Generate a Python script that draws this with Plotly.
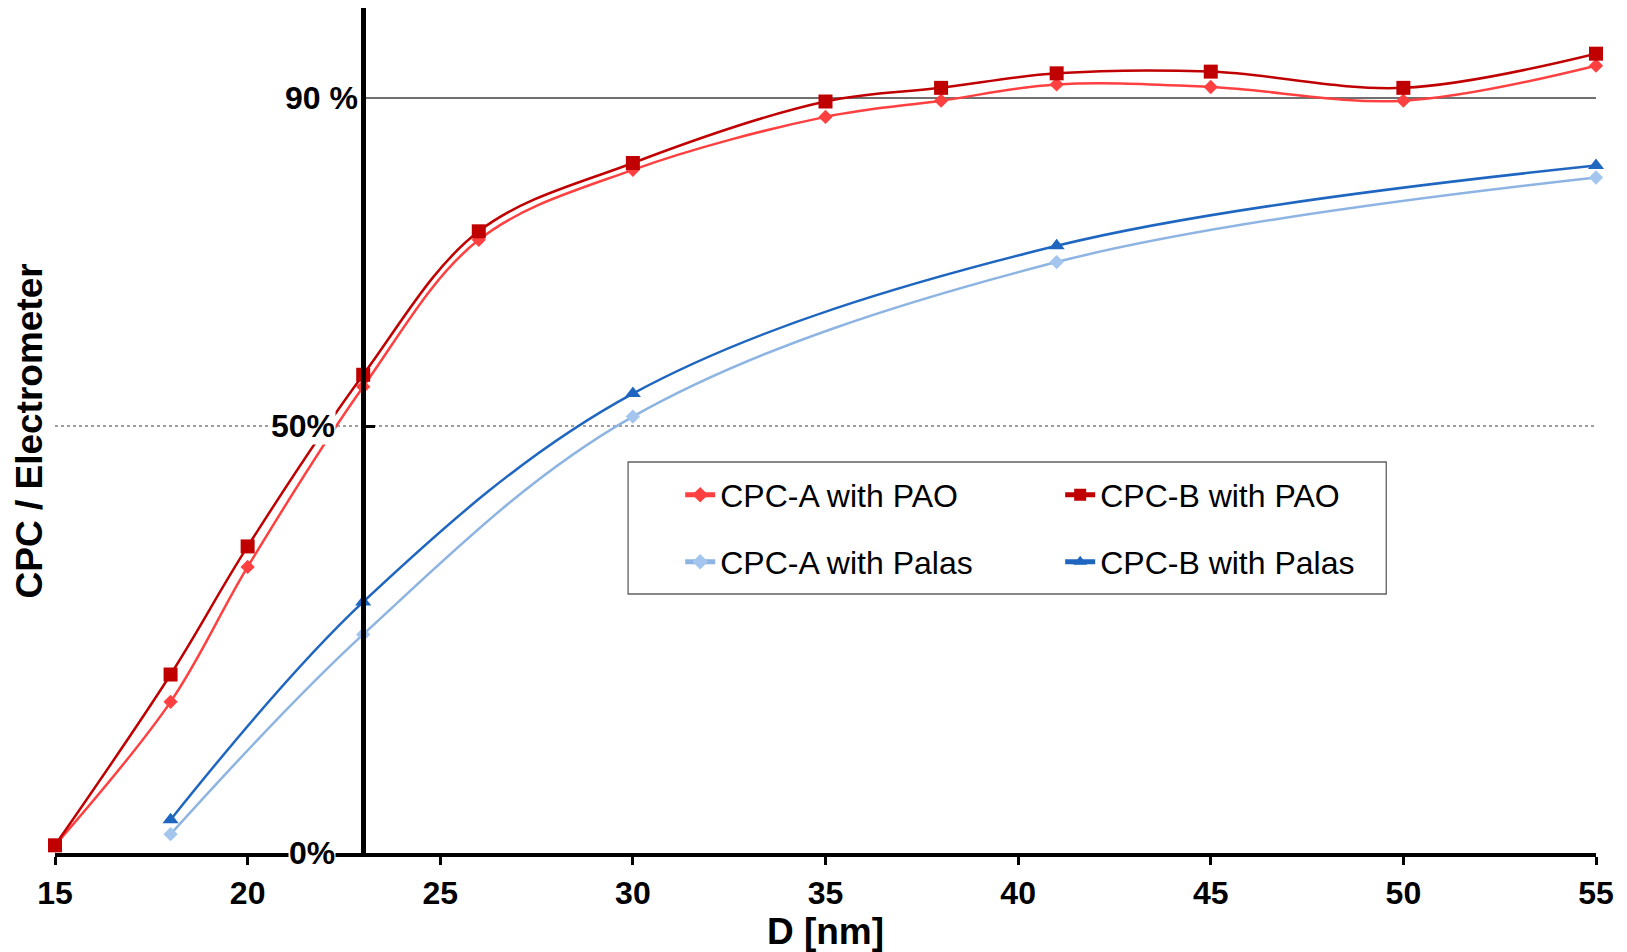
import plotly.graph_objects as go

# ---------------- data (y in percent) ----------------
x_pao = [15, 18, 20, 23, 26, 30, 35, 38, 41, 45, 50, 55]
cpc_a_pao = [0.9, 17.7, 33.5, 54.6, 71.8, 80.0, 86.2, 88.1, 90.0, 89.7, 88.1, 92.2]
cpc_b_pao = [0.9, 20.9, 35.9, 56.0, 72.8, 80.8, 88.0, 89.6, 91.3, 91.5, 89.6, 93.6]

x_palas = [18, 23, 30, 41, 55]
cpc_a_palas = [2.2, 25.6, 51.1, 69.2, 79.1]
cpc_b_palas = [3.9, 29.4, 53.8, 71.1, 80.5]

x_ticks = [15, 20, 25, 30, 35, 40, 45, 50, 55]
y_labels = ["0%", "50%", "90 %"]
y_label_vals = [0, 50, 88.4]
y_label_shift = [-27, -27, -4]

X_CROSS = 23          # where the vertical axis crosses
GRID_50 = 50
GRID_90 = 88.4

FONT = "Arial, Liberation Sans, sans-serif"

fig = go.Figure()

fig.add_trace(go.Scatter(
    x=x_pao, y=cpc_a_pao, name="CPC-A with PAO", mode="lines+markers",
    line=dict(color="#FF4040", width=2.5, shape="spline", smoothing=1.0),
    marker=dict(symbol="diamond", size=11, color="#FF4040"),
    cliponaxis=False, legend="legend"))
fig.add_trace(go.Scatter(
    x=x_pao, y=cpc_b_pao, name="CPC-B with PAO", mode="lines+markers",
    line=dict(color="#C00000", width=2.5, shape="spline", smoothing=1.0),
    marker=dict(symbol="square", size=14, color="#C00000"),
    cliponaxis=False, legend="legend"))
fig.add_trace(go.Scatter(
    x=x_palas, y=cpc_a_palas, name="CPC-A with Palas", mode="lines+markers",
    line=dict(color="#8DB4E2", width=2.5, shape="spline", smoothing=1.0),
    marker=dict(symbol="diamond", size=11, color="#A4C6EE"),
    cliponaxis=False, legend="legend2"))
fig.add_trace(go.Scatter(
    x=x_palas, y=cpc_b_palas, name="CPC-B with Palas", mode="lines+markers",
    line=dict(color="#1F66C0", width=2.5, shape="spline", smoothing=1.0),
    marker=dict(symbol="triangle-up", size=14, color="#1F66C0"),
    cliponaxis=False, legend="legend2"))

# reference lines
fig.add_shape(type="line", xref="x", yref="y", x0=15, x1=55, y0=GRID_50, y1=GRID_50,
              line=dict(color="#7F7F7F", width=1.5, dash="dot"), layer="below")
fig.add_shape(type="line", xref="x", yref="y", x0=X_CROSS, x1=55, y0=GRID_90, y1=GRID_90,
              line=dict(color="#404040", width=1.5), layer="below")

# legend frame
fig.add_shape(type="rect", xref="paper", yref="paper",
              x0=0.3719, x1=0.8639, y0=0.3065, y1=0.4627,
              line=dict(color="#606060", width=1.3), fillcolor="white", layer="below")

# y labels
for txt, v, sh in zip(y_labels, y_label_vals, y_label_shift):
    fig.add_annotation(x=X_CROSS, y=v, xref="x", yref="y", text=txt, showarrow=False,
                       xanchor="right", yanchor="middle", xshift=sh,
                       font=dict(family=FONT, size=32, color="black", weight="bold"),
                       bgcolor="white", borderpad=0)

# y title
fig.add_annotation(x=0, y=0.5, xref="paper", yref="paper", text="<b>CPC / Electrometer</b>",
                   showarrow=False, textangle=-90, xanchor="center", yanchor="middle",
                   xshift=-26, yshift=-1,
                   font=dict(family=FONT, size=37, color="black"))

legend_common = dict(orientation="h", xanchor="left", yanchor="middle",
                     bgcolor="rgba(0,0,0,0)", borderwidth=0,
                     font=dict(family=FONT, size=32, color="black"),
                     entrywidth=335, entrywidthmode="pixels", itemsizing="constant")

# page body has an 8px margin, so the figure is sized to fit the window
fig.update_layout(
    width=1619, height=944,
    margin=dict(l=47, r=31, t=0, b=99),
    plot_bgcolor="white", paper_bgcolor="white",
    showlegend=True,
    legend=dict(x=0.4057, y=0.4237, **legend_common),
    legend2=dict(x=0.4057, y=0.3444, **legend_common),
    xaxis=dict(range=[15, 55], domain=[0, 1], tickvals=x_ticks,
               ticks="outside", ticklen=8, tickwidth=3, tickcolor="black",
               showline=True, linewidth=4, linecolor="black",
               showgrid=False, zeroline=False, ticklabelstandoff=1,
               tickfont=dict(family=FONT, size=32, color="black", weight="bold"),
               title=dict(text="<b>D [nm]</b>", standoff=12,
                          font=dict(family=FONT, size=37, color="black"))),
    xaxis2=dict(range=[15, 55], overlaying="x", matches="x", anchor="y", side="bottom",
                tickvals=x_ticks, ticks="inside", ticklen=8, tickwidth=3, tickcolor="black",
                showticklabels=False, showline=False, showgrid=False, zeroline=False),
    yaxis=dict(range=[0, 98.95], anchor="free", position=0.2,
               tickvals=[50], ticks="inside", ticklen=9, tickwidth=3, tickcolor="black",
               showticklabels=False, showline=True, linewidth=4.5, linecolor="black",
               showgrid=False, zeroline=False),
)

fig.write_html("out.html")
